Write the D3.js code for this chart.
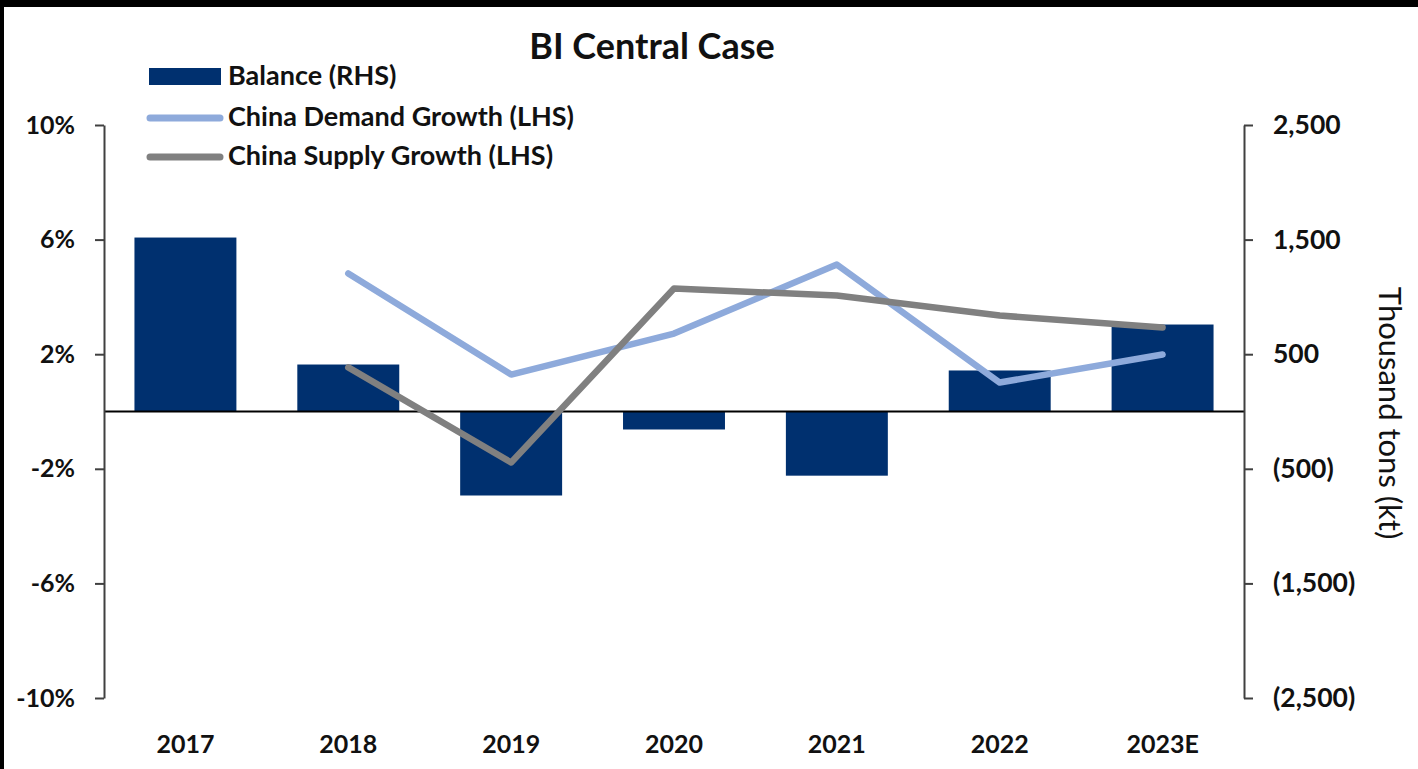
<!DOCTYPE html>
<html>
<head>
<meta charset="utf-8">
<script src="https://cdn.jsdelivr.net/npm/d3@7"></script>
<style>
  html, body { margin: 0; padding: 0; background: #fff; }
  svg { display: block; font-family: Lato, "Open Sans", sans-serif; }
</style>
</head>
<body>
<div id="chart"></div>
<script>
// chart values
const years = ["2017", "2018", "2019", "2020", "2021", "2022", "2023E"];
const balance = [1518, 410, -733, -157, -560, 358, 759];          // kt, RHS
const demandGrowth = [null, 4.82, 1.29, 2.72, 5.13, 1.01, 1.99];  // %, LHS
const supplyGrowth = [null, 1.54, -1.78, 4.29, 4.05, 3.35, 2.93]; // %, LHS
const leftTicks = [-10, -6, -2, 2, 6, 10];
const rightTicks = [-2500, -1500, -500, 500, 1500, 2500];
const legendLabels = ["Balance (RHS)", "China Demand Growth (LHS)", "China Supply Growth (LHS)"];

const W = 1418, H = 769;
const margin = {top: 125, right: 174, bottom: 71, left: 104};
const width = W - margin.left - margin.right,
      height = H - margin.top - margin.bottom;

const barColor = "#00306f", demandColor = "#8eaadb", supplyColor = "#808080";
const axisColor = "#404040";

const svgRoot = d3.select("#chart").append("svg")
    .attr("width", W)
    .attr("height", H);

// black frame edges of the screenshot
svgRoot.append("rect").attr("x", 0).attr("y", 0).attr("width", W).attr("height", 7).attr("fill", "#000");
svgRoot.append("rect").attr("x", 0).attr("y", 0).attr("width", 4).attr("height", H).attr("fill", "#000");

const svg = svgRoot.append("g")
    .attr("transform", "translate(" + margin.left + "," + margin.top + ")");

var xScale = d3.scaleBand()
    .domain(years)
    .range([0, width])
    .paddingInner(0.374)
    .paddingOuter(0.187);

var yLeft = d3.scaleLinear().domain([-10, 10]).range([height, 0]);
var yRight = d3.scaleLinear().domain([-2500, 2500]).range([height, 0]);

// Bars
svg.selectAll("rect.bar")
    .data(years.map((y, i) => ({x: y, v: balance[i]})))
    .enter()
    .append("rect")
    .attr("class", "bar")
    .attr("x", d => xScale(d.x))
    .attr("width", xScale.bandwidth())
    .attr("y", d => yRight(Math.max(0, d.v)))
    .attr("height", d => Math.abs(yRight(d.v) - yRight(0)))
    .attr("fill", barColor);

// zero line
svg.append("line")
    .attr("x1", 0).attr("x2", width)
    .attr("y1", yLeft(0)).attr("y2", yLeft(0))
    .attr("stroke", "#000")
    .attr("stroke-width", 2);

// Lines
const line = d3.line()
    .defined(d => d.v != null)
    .x(d => xScale(d.x) + xScale.bandwidth() / 2)
    .y(d => yLeft(d.v));

[[demandGrowth, demandColor], [supplyGrowth, supplyColor]].forEach(([vals, col]) => {
    svg.append("path")
        .datum(years.map((y, i) => ({x: y, v: vals[i]})))
        .attr("d", line)
        .attr("fill", "none")
        .attr("stroke", col)
        .attr("stroke-width", 6.5)
        .attr("stroke-linejoin", "round")
        .attr("stroke-linecap", "round");
});

// Axes
const fmtLeft = d => String(d).replace("\u2212", "-") + "%";
const fmtRight = d => d < 0 ? "(" + d3.format(",")(-d) + ")" : d3.format(",")(d);

function styleAxis(size) {
    return g => {
        g.select(".domain").attr("stroke", axisColor).attr("stroke-width", 2);
        g.selectAll(".tick line").attr("stroke", axisColor).attr("stroke-width", 2);
        g.selectAll(".tick text")
            .attr("fill", "#111")
            .style("font-size", size + "px")
            .style("font-weight", "bold");
        g.attr("font-family", null);
    };
}

svg.append("g")
    .call(d3.axisLeft(yLeft).tickValues(leftTicks).tickFormat(fmtLeft)
        .tickSize(9).tickSizeOuter(0).tickPadding(20))
    .call(styleAxis(25));

svg.append("g")
    .attr("transform", "translate(" + width + ",0)")
    .call(d3.axisRight(yRight).tickValues(rightTicks).tickFormat(fmtRight)
        .tickSize(9).tickSizeOuter(0).tickPadding(20))
    .call(styleAxis(26.5));

svg.append("g")
    .attr("transform", "translate(0," + height + ")")
    .call(d3.axisBottom(xScale).tickSize(0).tickPadding(37))
    .call(styleAxis(25))
    .call(g => g.select(".domain").remove());

// right axis title
svgRoot.append("text")
    .attr("transform", "translate(1379,413) rotate(90)")
    .attr("text-anchor", "middle")
    .style("font-size", "31px")
    .attr("fill", "#111")
    .text("Thousand tons (kt)");

// Title
svgRoot.append("text")
    .attr("x", 652)
    .attr("y", 59)
    .attr("text-anchor", "middle")
    .style("font-size", "36px")
    .style("font-weight", "bold")
    .attr("fill", "#111")
    .text("BI Central Case");

// Legend
const legend = svgRoot.append("g");
legend.append("rect")
    .attr("x", 149).attr("y", 68).attr("width", 72).attr("height", 17)
    .attr("fill", barColor);
[[118, demandColor], [157, supplyColor]].forEach(([y, col]) => {
    legend.append("line")
        .attr("x1", 150).attr("x2", 220).attr("y1", y).attr("y2", y)
        .attr("stroke", col).attr("stroke-width", 7)
        .attr("stroke-linecap", "round");
});
legend.selectAll("text.leg")
    .data(legendLabels)
    .enter()
    .append("text")
    .attr("class", "leg")
    .attr("x", 228)
    .attr("y", (d, i) => [85, 126, 165][i])
    .style("font-size", "27px")
    .style("font-weight", "bold")
    .attr("fill", "#111")
    .text(d => d);
</script>
</body>
</html>
